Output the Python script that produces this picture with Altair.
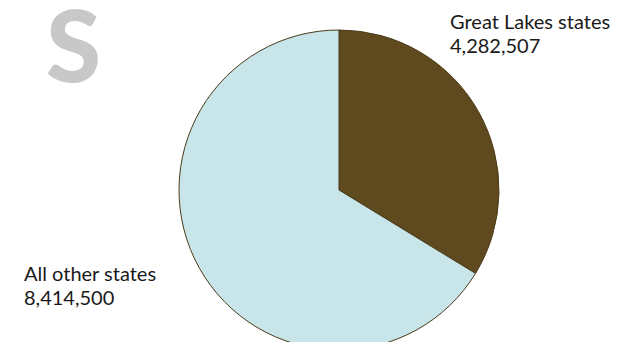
import altair as alt
import pandas as pd

categories = ["Great Lakes states", "All other states"]
values = [4282507, 8414500]
colors = ["#5e4a1e", "#c8e6ea"]

df = pd.DataFrame({"category": categories, "value": values, "order": [0, 1]})
df["label"] = df["value"].map(lambda v: f"{v:,}")

CX, CY, R = 331, 182, 160
FONT = "Lato"

pie = alt.Chart(df).mark_arc(radius=R, stroke="#4a3a18", strokeWidth=1).encode(
    theta=alt.Theta("value:Q", stack=True),
    order=alt.Order("order:Q"),
    color=alt.Color("category:N", scale=alt.Scale(domain=categories, range=colors), legend=None),
    x=alt.value(CX),
    y=alt.value(CY),
)

def label(cat, x, y):
    base = alt.Chart(df).transform_filter(alt.datum.category == cat)
    t1 = base.mark_text(align="left", baseline="alphabetic", font=FONT, fontSize=20, color="#1a1a1a").encode(
        text="category:N", x=alt.value(x), y=alt.value(y))
    t2 = base.mark_text(align="left", baseline="alphabetic", font=FONT, fontSize=20, color="#1a1a1a").encode(
        text="label:N", x=alt.value(x), y=alt.value(y + 24))
    return t1 + t2

big_s = alt.Chart(pd.DataFrame({"t": ["S"]})).mark_text(
    align="left", baseline="alphabetic", font=FONT, fontSize=100, fontWeight=900, color="#c8c8c8"
).encode(text="t:N", x=alt.value(38), y=alt.value(74))

chart = alt.layer(
    big_s,
    pie,
    label("Great Lakes states", 442, 21),
    label("All other states", 16, 273),
).properties(width=605, height=334, padding=0, autosize="none").configure_view(stroke=None)

chart.save("out.html", embed_options={"renderer": "svg", "actions": False})
